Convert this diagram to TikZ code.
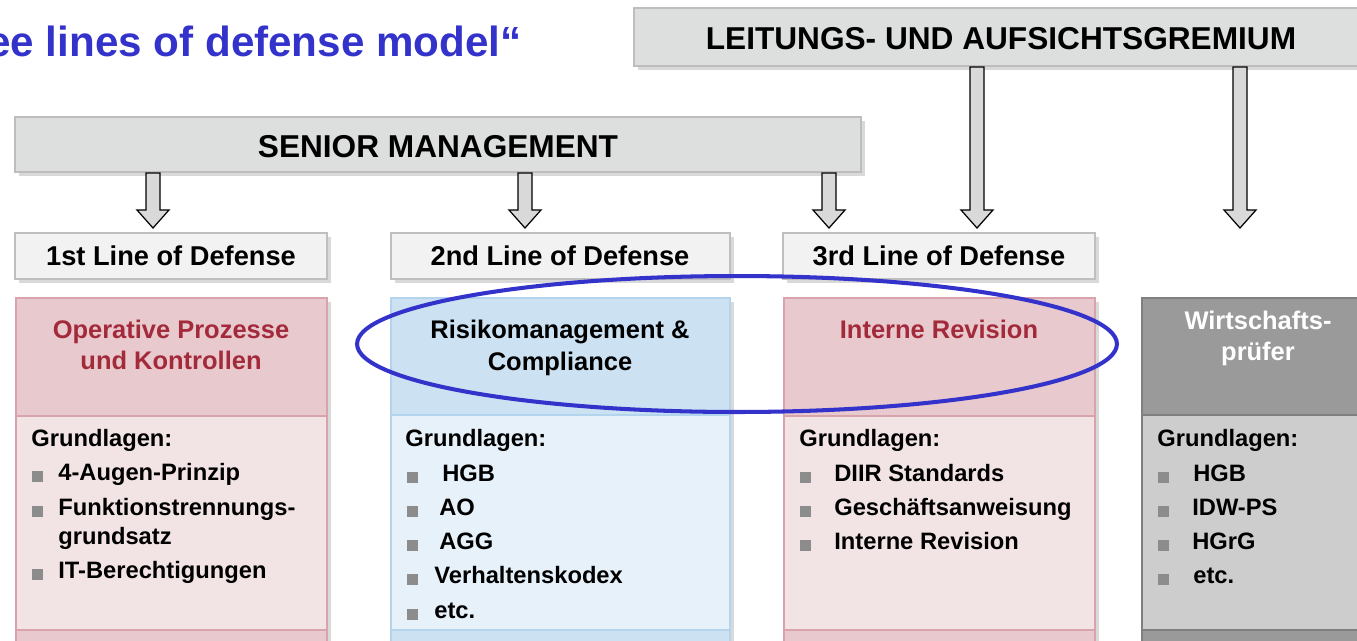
\documentclass[tikz,border=0pt]{standalone}
\usepackage{fontspec}
\setmainfont{Liberation Sans}
\usetikzlibrary{calc,fit,shadows}

\definecolor{titleblue}{HTML}{3333CC}
\definecolor{barfill}{HTML}{DDDEDE}
\definecolor{barline}{HTML}{BDBDBD}
\definecolor{linefill}{HTML}{F2F2F2}
\definecolor{lineline}{HTML}{BFBFBF}
\definecolor{pinkhead}{HTML}{E8C9CD}
\definecolor{pinkbody}{HTML}{F2E4E5}
\definecolor{pinkline}{HTML}{D9A3AB}
\definecolor{redtext}{HTML}{A32A3B}
\definecolor{bluehead}{HTML}{CCE1F2}
\definecolor{bluebody}{HTML}{E7F1FA}
\definecolor{blueline}{HTML}{B4D3EC}
\definecolor{greyhead}{HTML}{9A9A9A}
\definecolor{greybody}{HTML}{CDCDCD}
\definecolor{greyline}{HTML}{7F7F7F}
\definecolor{bulletgray}{HTML}{8C8C8C}
\definecolor{arrowfill}{HTML}{D9D9D9}

\tikzset{
  softshadow/.style={drop shadow={shadow xshift=2pt, shadow yshift=-2pt, opacity=0.3}},
  bar/.style={draw=barline, line width=1.1pt, fill=barfill, inner sep=0pt, softshadow},
  linebox/.style={draw=lineline, line width=1.1pt, fill=linefill, inner sep=0pt, softshadow},
  pinkpanel/.style={draw=pinkline, line width=0.7pt, fill=pinkbody, inner sep=0pt, softshadow},
  pinktop/.style={draw=pinkline, line width=0.7pt, fill=pinkhead, inner sep=0pt},
  bluepanel/.style={draw=blueline, line width=0.7pt, fill=bluebody, inner sep=0pt, softshadow},
  bluetop/.style={draw=blueline, line width=0.7pt, fill=bluehead, inner sep=0pt},
  greypanel/.style={draw=greyline, line width=1.1pt, fill=greybody, inner sep=0pt, softshadow},
  greytop/.style={draw=greyline, line width=1.1pt, fill=greyhead, inner sep=0pt},
  hollowarrow/.style={draw=black, line width=0.7pt, fill=arrowfill, line join=miter},
  titletext/.style={anchor=base east, inner sep=0pt, text=titleblue, font=\fontsize{24}{28}\selectfont\bfseries},
  bartext/.style={anchor=base, inner sep=0pt, font=\fontsize{18}{21}\selectfont\bfseries},
  linetext/.style={anchor=base, inner sep=0pt, font=\fontsize{15.5}{18}\selectfont\bfseries},
  headtext/.style={anchor=base, inner sep=0pt, font=\fontsize{14.5}{17}\selectfont\bfseries},
  item/.style={anchor=base west, inner sep=0pt, font=\fontsize{13.5}{16}\selectfont\bfseries},
  focusline/.style={draw=titleblue, line width=2.3pt}
}

% hollow block arrow from the bottom of a box down to a tip coordinate
\newcommand{\blockarrow}[2]{%
  \draw[hollowarrow] ($(#1.south -| #2)+(-7,0)$) -- ($(#2)+(-7,-18)$) -- ($(#2)+(-16,-18)$) -- (#2)
    -- ($(#2)+(16,-18)$) -- ($(#2)+(7,-18)$) -- ($(#1.south -| #2)+(7,0)$) -- cycle;}

\begin{document}
\begin{tikzpicture}[x=0.02cm, y=-0.02cm]
  \path[use as bounding box] (0,0) rectangle (1357,640);
  \clip (0,0) rectangle (1357,640);

  \node[titletext] (title) at (522,56) {ee lines of defense model“};

  % management boxes
  \node[bar, fit={(634,8) (1372,66)}] (board) {};
  \node[bartext] (boardtext) at (1001,49) {LEITUNGS- UND AUFSICHTSGREMIUM};
  \node[bar, fit={(15,117) (861,172)}] (senior) {};
  \node[bartext] (seniortext) at (438,157) {SENIOR MANAGEMENT};

  % arrows
  \coordinate (tip1) at (153,228);
  \coordinate (tip2) at (525,228);
  \coordinate (tip3) at (829,228);
  \coordinate (tip4) at (977,228);
  \coordinate (tip5) at (1240,228);
  \blockarrow{senior}{tip1}
  \blockarrow{senior}{tip2}
  \blockarrow{senior}{tip3}
  \blockarrow{board}{tip4}
  \blockarrow{board}{tip5}

  % lines of defense
  \node[linebox, fit={(15,233) (327,279)}] (line1) {};
  \node[linetext] (line1text) at (171,265) {1st Line of Defense};
  \node[linebox, fit={(391,233) (730,279)}] (line2) {};
  \node[linetext] (line2text) at (560,265) {2nd Line of Defense};
  \node[linebox, fit={(783,233) (1095,279)}] (line3) {};
  \node[linetext] (line3text) at (939,265) {3rd Line of Defense};

  % panel 1
  \node[pinkpanel, fit={(16,298) (327,660)}] (panel1) {};
  \node[pinktop, fit={(16,298) (327,416)}] (head1) {};
  \node[pinktop, fit={(16,630) (327,660)}] (foot1) {};
  \node[headtext, text=redtext] (head1a) at (171,338) {Operative Prozesse};
  \node[headtext, text=redtext] (head1b) at (171,369) {und Kontrollen};
  \node[item] (basis1) at (31,446) {Grundlagen:};
  \fill[bulletgray] (32,471) rectangle (43,482);
  \node[item] (p1a) at (58,480) {4-Augen-Prinzip};
  \fill[bulletgray] (32,506) rectangle (43,517);
  \node[item] (p1b) at (58,515) {Funktionstrennungs-};
  \node[item] (p1c) at (58,544) {grundsatz};
  \fill[bulletgray] (32,569) rectangle (43,580);
  \node[item] (p1d) at (58,578) {IT-Berechtigungen};

  % panel 2
  \node[bluepanel, fit={(391,298) (730,660)}] (panel2) {};
  \node[bluetop, fit={(391,298) (730,415)}] (head2) {};
  \node[bluetop, fit={(391,630) (730,660)}] (foot2) {};
  \node[headtext] (head2a) at (560,338) {Risikomanagement \&};
  \node[headtext] (head2b) at (560,370) {Compliance};
  \node[item] (basis2) at (405,446) {Grundlagen:};
  \fill[bulletgray] (407,472) rectangle (418,483);
  \node[item] (p2a) at (442,481) {HGB};
  \fill[bulletgray] (407,506) rectangle (418,517);
  \node[item] (p2b) at (439,515) {AO};
  \fill[bulletgray] (407,540) rectangle (418,551);
  \node[item] (p2c) at (439,549) {AGG};
  \fill[bulletgray] (407,574) rectangle (418,585);
  \node[item] (p2d) at (434,583) {Verhaltenskodex};
  \fill[bulletgray] (407,609) rectangle (418,620);
  \node[item] (p2e) at (434,618) {etc.};

  % panel 3
  \node[pinkpanel, fit={(784,298) (1095,660)}] (panel3) {};
  \node[pinktop, fit={(784,298) (1095,416)}] (head3) {};
  \node[pinktop, fit={(784,630) (1095,660)}] (foot3) {};
  \node[headtext, text=redtext] (head3a) at (939,338) {Interne Revision};
  \node[item] (basis3) at (799,446) {Grundlagen:};
  \fill[bulletgray] (800,472) rectangle (811,483);
  \node[item] (p3a) at (834,481) {DIIR Standards};
  \fill[bulletgray] (800,506) rectangle (811,517);
  \node[item] (p3b) at (834,515) {Geschäftsanweisung};
  \fill[bulletgray] (800,540) rectangle (811,551);
  \node[item] (p3c) at (834,549) {Interne Revision};

  % panel 4
  \node[greypanel, fit={(1142,298) (1376,660)}] (panel4) {};
  \node[greytop, fit={(1142,298) (1376,415)}] (head4) {};
  \node[greytop, fit={(1142,630) (1376,660)}] (foot4) {};
  \node[headtext, text=white] (head4a) at (1258,329) {Wirtschafts-};
  \node[headtext, text=white] (head4b) at (1258,360) {prüfer};
  \node[item] (basis4) at (1157,446) {Grundlagen:};
  \fill[bulletgray] (1158,472) rectangle (1169,483);
  \node[item] (p4a) at (1193,481) {HGB};
  \fill[bulletgray] (1158,506) rectangle (1169,517);
  \node[item] (p4b) at (1192,515) {IDW-PS};
  \fill[bulletgray] (1158,540) rectangle (1169,551);
  \node[item] (p4c) at (1192,549) {HGrG};
  \fill[bulletgray] (1158,574) rectangle (1169,585);
  \node[item] (p4d) at (1193,583) {etc.};

  % highlight
  \draw[focusline] (737,344) ellipse [x radius=7.6cm, y radius=1.36cm];
\end{tikzpicture}
\end{document}
